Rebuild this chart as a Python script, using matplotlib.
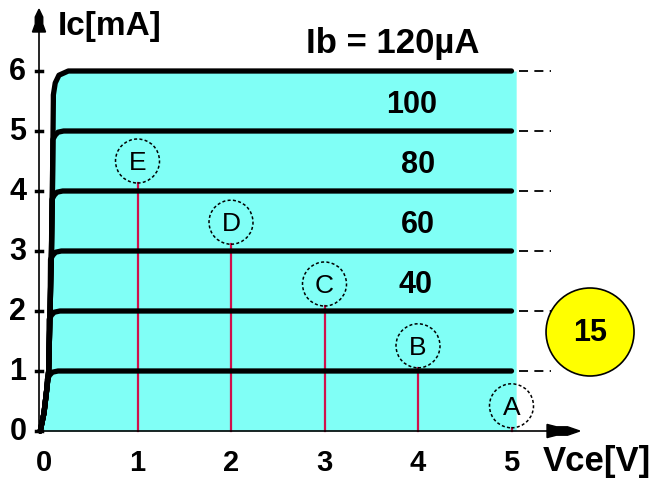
import matplotlib.pyplot as plt
from matplotlib.patches import Ellipse, Polygon

# collector curves: base current labels and the saturated collector current
ib_labels = ['Ib = 120µA', '100', '80', '60', '40', '']
ic_levels = [6, 5, 4, 3, 2, 1]
label_x = [3.73, 3.93, 4.0, 4.0, 3.97, 0]

# shared saturation edge near Vce = 0
edge_vce = [-0.04, 0.0, 0.03, 0.05, 0.065, 0.08, 0.09, 0.1]
edge_ic = [0.0, 0.3, 0.7, 1.0, 2.0, 3.0, 4.0, 5.5]

# knee of each curve: (vce offset, ic offset below the level)
knee_dv = [0.005, 0.03, 0.06, 0.12]
knee_di = [-0.14, -0.07, -0.02, 0.0]
top_knee_dv = [0.0, 0.02, 0.06, 0.16]
top_knee_di = [-0.4, -0.2, -0.07, 0.0]

# operating points A..E
pt_names = ['A', 'B', 'C', 'D', 'E']
pt_vce = [5, 4, 3, 2, 1]
pt_ic = [0.42, 1.42, 2.45, 3.48, 4.5]

badge = '15'

# pixel mapping of the 650x481 canvas: x = 44 + 93.5*v, row = 432 - 60*i
X0, SX = 44, 93.5
Y0, SY = 432, 60

fig = plt.figure(figsize=(6.5, 4.81), dpi=100)
ax = fig.add_axes([0, 0, 1, 1])
ax.set_xlim(-X0 / SX, (650 - X0) / SX)
ax.set_ylim((Y0 - 481) / SY, Y0 / SY)
ax.axis('off')

font = 'Liberation Sans'
cyan = '#80fff6'
pink = '#d0104c'
ry = 22 / SY
rx = 22 / SX


def curve(level):
    vs, cs = [], []
    if level == ic_levels[0]:
        dv, di, cut = top_knee_dv, top_knee_di, 0.45
    else:
        dv, di, cut = knee_dv, knee_di, 0.15
    for v, c in zip(edge_vce, edge_ic):
        if c < level - cut:
            vs.append(v)
            cs.append(c)
    vk = 0.1 if level == ic_levels[0] else vs[-1]
    vs += [vk + d for d in dv] + [5.0]
    cs += [level + d for d in di] + [level]
    return vs, cs


# cyan region under the top curve
tv, tc = curve(ic_levels[0])
ax.fill_between(tv + [5.05], tc + [tc[-1]], 0, color=cyan, lw=0, zorder=1)

for lev, lab, lx in zip(ic_levels, ib_labels, label_x):
    v, c = curve(lev)
    ax.plot(v, c, color='black', lw=3.8, solid_capstyle='round',
            solid_joinstyle='round', zorder=4)
    ax.plot([5.08, 5.42], [lev, lev], color='black', lw=1.3, ls=(0, (5, 3.5)), zorder=3)
    if lab:
        size = 25 if lev == 6 else 22
        ax.text(lx, lev + 0.2, lab, ha='center', va='bottom', fontsize=size,
                fontweight='bold', family=font, zorder=5)

# operating points with their Vce drop lines
for name, v, c in zip(pt_names, pt_vce, pt_ic):
    ax.plot([v, v], [0, c - ry], color=pink, lw=1.6, zorder=3)
    ax.add_patch(Ellipse((v, c), 2 * rx, 2 * ry, facecolor='none', edgecolor='black',
                         lw=1.1, ls=(0, (2, 1.5)), zorder=6))
    ax.text(v, c - 0.02, name, ha='center', va='center', fontsize=19, family=font,
            fontweight='medium', zorder=7)

# axes with arrow heads
yl = -5 / SX
ax.plot([yl, yl], [0, 6.8], color='black', lw=1.2, zorder=5)
ax.add_patch(Polygon([[yl, 7.03], [yl - 0.04, 6.9], [yl - 0.04, 6.78], [yl - 0.07, 6.65],
                      [yl + 0.07, 6.65], [yl + 0.04, 6.78], [yl + 0.04, 6.9]],
                     closed=True, color='black', zorder=5))
ax.plot([yl, 5.6], [0, 0], color='black', lw=1.2, zorder=5)
ax.add_patch(Polygon([[5.73, 0], [5.6, 0.07], [5.48, 0.07], [5.38, 0.11], [5.38, -0.11],
                      [5.48, -0.07], [5.6, -0.07]], closed=True, color='black', zorder=5))

for i in range(7):
    ax.plot([yl - 0.03, yl + 0.03], [i, i], color='black', lw=2.5, zorder=5)
    ax.text(-0.28, i, str(i), ha='center', va='center', fontsize=22, fontweight='bold',
            family=font)
for i in range(6):
    ax.text(i, -0.52, str(i), ha='center', va='center', fontsize=21, fontweight='bold',
            family=font)

ax.text(0.15, 6.75, 'Ic[mA]', ha='left', va='center', fontsize=24, fontweight='bold',
        family=font)
ax.text(5.33, -0.5, 'Vce[V]', ha='left', va='center', fontsize=25, fontweight='bold',
        family=font)

# badge
ax.add_patch(Ellipse((5.84, 1.65), 2 * 44 / SX, 2 * 44 / SY, facecolor='#ffff00',
                     edgecolor='black', lw=1.2, zorder=5))
ax.text(5.84, 1.65, badge, ha='center', va='center', fontsize=22, fontweight='bold',
        family=font, zorder=6)

fig.savefig('out.png', dpi=100)
